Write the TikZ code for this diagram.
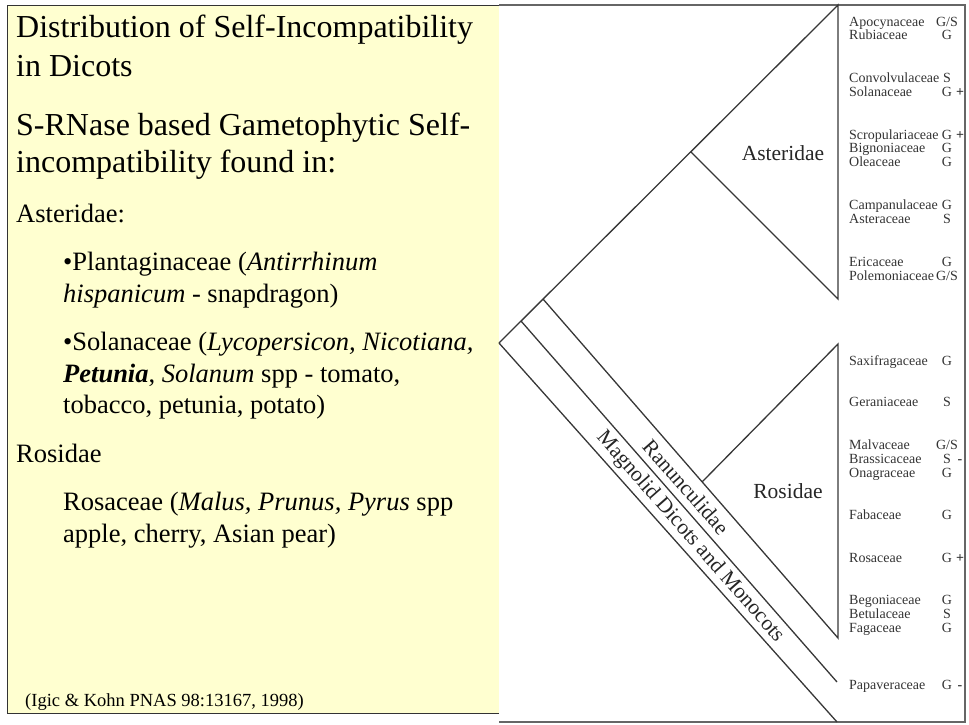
\documentclass[tikz,border=0pt]{standalone}
\usepackage{fontspec}
\setmainfont{Liberation Serif}
\definecolor{slideyellow}{RGB}{255,255,208}
\definecolor{treegray}{RGB}{55,55,55}

\begin{document}
\begin{tikzpicture}[x=1pt,y=-1pt,
    big/.style={anchor=base west,inner sep=0pt,font=\fontsize{32}{38}\selectfont},
    body/.style={anchor=base west,inner sep=0pt,font=\fontsize{26.5}{32}\selectfont},
    cite/.style={anchor=base west,inner sep=0pt,font=\fontsize{18.5}{22}\selectfont},
    clade/.style={inner sep=0pt,font=\fontsize{21.5}{25}\selectfont,text=black!85},
    fam/.style={anchor=base west,inner sep=0pt,font=\fontsize{14}{14}\selectfont,text=black!80},
    code/.style={anchor=base,inner sep=0pt,font=\fontsize{14}{14}\selectfont,text=black!80},
    branch/.style={draw=treegray,line width=1.3pt}]
    \useasboundingbox(0,0)rectangle(969,724);

    % panels
    \fill[slideyellow](7,5)rectangle(499,713);
    \draw[black!80,line width=1pt](499,713)--(7,713)--(7,5)--(499,5);
    \draw[black!60,line width=1.2pt](499,5)--(965,5)--(965,722)--(499,722);

    % slide text
    \node[big](title1)at(16,37){Distribution of Self-Incompatibility};
    \node[big](title2)at(16,76){in Dicots};
    \node[big](srnase1)at(16,135){S-RNase based Gametophytic Self-};
    \node[big](srnase2)at(16,172){incompatibility found in:};
    \node[body](asterhead)at(16,222){Asteridae:};
    \node[body](plant1)at(63,270){•Plantaginaceae (\textit{Antirrhinum}};
    \node[body](plant2)at(63,302){\textit{hispanicum} - snapdragon)};
    \node[body](sol1)at(63,350){•Solanaceae (\textit{Lycopersicon, Nicotiana,}};
    \node[body](sol2)at(63,382){\textbf{\textit{Petunia}}, \textit{Solanum} spp - tomato,};
    \node[body](sol3)at(63,413){tobacco, petunia, potato)};
    \node[body](roshead)at(16,462){Rosidae};
    \node[body](ros1)at(63,510){Rosaceae (\textit{Malus, Prunus, Pyrus} spp};
    \node[body](ros2)at(63,542){apple, cherry, Asian pear)};
    \node[cite](source)at(25,706){(Igic \& Kohn PNAS 98:13167, 1998)};

    % tree
    \coordinate(root)at(499,343);
    \coordinate(b1)at(521,321);
    \coordinate(b2)at(543,299);
    \coordinate(astnode)at(691,152);
    \coordinate(asttop)at(838,5);
    \coordinate(astbot)at(838,299);
    \coordinate(rosnode)at(702,482);
    \coordinate(rostop)at(838,344);
    \coordinate(rosbot)at(838,638);
    \coordinate(papend)at(837,682);
    \coordinate(magend)at(837,722);

    \draw[branch](root)--(asttop)--(astbot)--(astnode);
    \draw[branch](b2)--(rosbot)--(rostop)--(rosnode);
    \draw[branch](b1)--(papend);
    \draw[branch](root)--(magend);

    \node[clade](asterlab)at(783,153){Asteridae};
    \node[clade](roslab)at(788,491){Rosidae};
    \node[clade,rotate=-48.7](ranlab)at(686,487){Ranunculidae};
    \node[clade,rotate=-48.7](maglab)at(690,537){Magnolid Dicots and Monocots};

    % families and SI type
    \foreach \y/\fname/\fcode[count=\i] in {26.5/Apocynaceae/{G/S},39.5/Rubiaceae/G,
        82.5/Convolvulaceae/S,96.5/Solanaceae/G,139.5/Scropulariaceae/G,
        152.5/Bignoniaceae/G,166.5/Oleaceae/G,209.5/Campanulaceae/G,
        223.5/Asteraceae/S,266.5/Ericaceae/G,280.5/Polemoniaceae/{G/S},
        365.5/Saxifragaceae/G,406.5/Geraniaceae/S,449.5/Malvaceae/{G/S},
        463.5/Brassicaceae/S,477.5/Onagraceae/G,519.5/Fabaceae/G,
        562.5/Rosaceae/G,604.5/Begoniaceae/G,618.5/Betulaceae/S,
        632.5/Fagaceae/G,689.5/Papaveraceae/G}{
        \node[fam](fam\i)at(849,\y){\fname};
        \node[code](si\i)at(947,\y){\fcode};
    }
    \foreach \y/\mk[count=\i] in {96.5/+,139.5/+,562.5/+,463.5/-,689.5/-}
        \node[code,font=\fontsize{14}{14}\bfseries](mark\i)at(960,\y){\mk};
\end{tikzpicture}
\end{document}
